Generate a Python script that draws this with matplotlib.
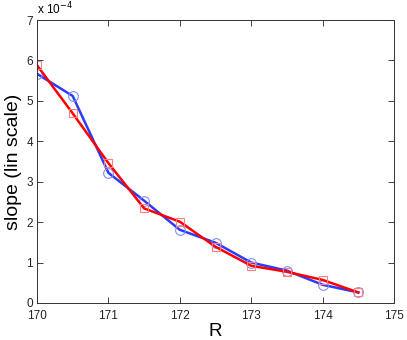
import numpy as np
import matplotlib.pyplot as plt
from matplotlib.ticker import FuncFormatter

plt.rcParams['font.family'] = ['Liberation Sans', 'DejaVu Sans']

R = [170, 170.5, 171, 171.5, 172, 172.5, 173, 173.5, 174, 174.5]
slope_blue = [5.67, 5.12, 3.22, 2.53, 1.81, 1.49, 1.00, 0.80, 0.45, 0.26]
slope_red = [5.88, 4.69, 3.46, 2.34, 2.01, 1.39, 0.92, 0.77, 0.57, 0.26]
scale = 1e-4

fig = plt.figure(figsize=(4.07, 3.4), dpi=100)
ax = fig.add_axes([0.091, 0.109, 0.877, 0.832])

ax.plot(R, np.array(slope_blue) * scale, color='#2b3bff', lw=1.8,
        marker='o', ms=7, mfc='none', mec='#7f8cff', mew=0.8)
ax.plot(R, np.array(slope_red) * scale, color='#ff0000', lw=1.8,
        marker='s', ms=6, mfc='none', mec='#ff7f7f', mew=0.8)

ax.set_xlim(170, 175)
ax.set_ylim(0, 7e-4)
ax.set_xticks(np.arange(170, 176, 1))
ax.set_yticks(np.arange(0, 8, 1) * scale)
ax.yaxis.set_major_formatter(FuncFormatter(lambda v, p: '%g' % round(v / scale, 6)))

ax.tick_params(direction='in', length=4, width=0.6, labelsize=8.5, top=True, right=True,
               colors='#222222', pad=3)
ax.tick_params(axis='x', pad=5)
for s in ax.spines.values():
    s.set_linewidth(0.7)
    s.set_color('#333333')

ax.text(0.0, 1.008, r'x 10$^{-4}$', transform=ax.transAxes, fontsize=8.5, ha='left', va='bottom')

ax.set_xlabel('R', fontsize=13.5, labelpad=1)
ax.set_ylabel('slope (lin scale)', fontsize=14, labelpad=3)

fig.savefig('out.png', dpi=100)
